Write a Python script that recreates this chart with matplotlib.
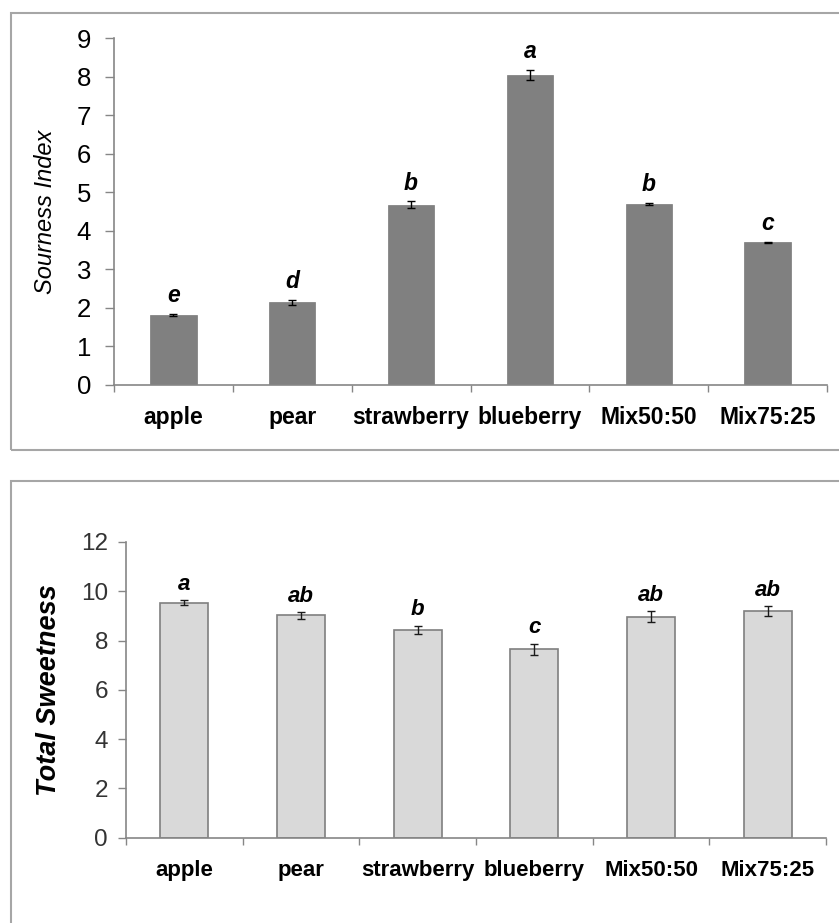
import matplotlib
matplotlib.use("Agg")
import matplotlib.pyplot as plt
from matplotlib.patches import Rectangle
import numpy as np

plt.rcParams['font.family'] = ['Liberation Sans', 'DejaVu Sans']

categories = ["apple", "pear", "strawberry", "blueberry", "Mix50:50", "Mix75:25"]

sour_values = [1.82, 2.14, 4.68, 8.03, 4.69, 3.70]
sour_errors = [0.03, 0.07, 0.08, 0.13, 0.03, 0.01]
sour_letters = ["e", "d", "b", "a", "b", "c"]

sweet_values = [9.53, 9.02, 8.44, 7.64, 8.96, 9.20]
sweet_errors = [0.10, 0.13, 0.16, 0.22, 0.22, 0.19]
sweet_letters = ["a", "ab", "b", "c", "ab", "ab"]

W, H = 839, 923
fig = plt.figure(figsize=(W / 100, H / 100), dpi=100)

def fx(px):
    return px / W

def fy(py):
    return 1 - py / H

# panel frames
fig.patches.append(Rectangle((fx(11), fy(450)), fx(860) - fx(11), fy(13) - fy(450),
                             transform=fig.transFigure, fill=False,
                             edgecolor="#a6a6a6", linewidth=1.5))
fig.patches.append(Rectangle((fx(11), fy(940)), fx(860) - fx(11), fy(481) - fy(940),
                             transform=fig.transFigure, fill=False,
                             edgecolor="#a6a6a6", linewidth=1.5))

spine_col = "#868686"

def style_axes(ax, ymax, ystep, ytick_pad, xtick_pad, xfs, yfs, ytick_len):
    x = np.arange(len(categories))
    ax.set_xlim(-0.5, len(categories) - 0.5)
    ax.set_ylim(0, ymax)
    ax.set_yticks(np.arange(0, ymax + 0.001, ystep))
    ax.set_xticks(x)
    ax.set_xticklabels(categories, fontweight="bold", fontsize=xfs)
    ax.set_xticks(np.arange(-0.5, len(categories), 1.0), minor=True)
    ax.tick_params(axis="x", which="major", length=0, pad=xtick_pad)
    ax.tick_params(axis="x", which="minor", length=5, width=1, color=spine_col, direction="out")
    ax.tick_params(axis="y", length=ytick_len, width=1, color=spine_col, pad=ytick_pad,
                   labelsize=yfs)
    for s in ["top", "right"]:
        ax.spines[s].set_visible(False)
    for s in ["left", "bottom"]:
        ax.spines[s].set_color(spine_col)
        ax.spines[s].set_linewidth(1.2)

# ---------- Top panel ----------
ax1 = fig.add_axes([fx(114), fy(385), fx(827) - fx(114), fy(38) - fy(385)])
x = np.arange(len(categories))
ax1.bar(x, sour_values, width=0.39, color="#808080", edgecolor="#7a7a7a", linewidth=0.5, zorder=2)
ax1.errorbar(x, sour_values, yerr=sour_errors, fmt="none", ecolor="black",
             elinewidth=1, capsize=3.2, capthick=1, zorder=3)
for xi, v, e, lab in zip(x, sour_values, sour_errors, sour_letters):
    ax1.annotate(lab, (xi, v + e), xytext=(0, 5), textcoords="offset points",
                 ha="center", va="bottom", fontsize=16.5, fontweight="bold", style="italic")
style_axes(ax1, 9, 1, 10, 15, 16.5, 18.5, 6.5)
ax1.set_ylabel("Sourness Index", fontsize=17, style="italic")
ax1.yaxis.set_label_coords(-0.080, 0.5)

# ---------- Bottom panel ----------
ax2 = fig.add_axes([fx(126), fy(837.7), fx(826) - fx(126), fy(542) - fy(837.7)])
ax2.bar(x, sweet_values, width=0.41, color="#d9d9d9", edgecolor="#7f7f7f", linewidth=1.2, zorder=2)
ax2.errorbar(x, sweet_values, yerr=sweet_errors, fmt="none", ecolor="#1a1a1a",
             elinewidth=1, capsize=3.2, capthick=1, zorder=3)
for xi, v, e, lab in zip(x, sweet_values, sweet_errors, sweet_letters):
    ax2.annotate(lab, (xi, v + e), xytext=(0, 4), textcoords="offset points",
                 ha="center", va="bottom", fontsize=16, fontweight="bold", style="italic")
style_axes(ax2, 12, 2, 7, 16, 16, 17.5, 6)
for t in ax2.get_yticklabels():
    t.set_color("#333333")
ax2.set_ylabel("Total Sweetness", fontsize=19.5, style="italic", fontweight="bold")
ax2.yaxis.set_label_coords(-0.092, 0.5)

fig.savefig("out.png", dpi=100)
